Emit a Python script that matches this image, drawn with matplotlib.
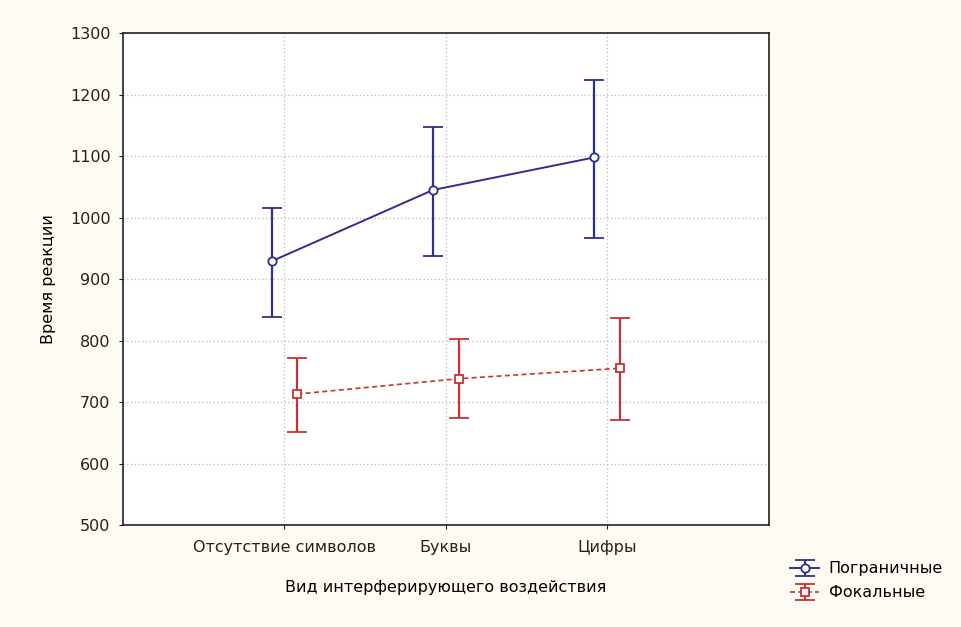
import matplotlib
matplotlib.use("Agg")
import matplotlib.pyplot as plt
import numpy as np

categories = ["Отсутствие символов", "Буквы", "Цифры"]
border_mean = [929, 1045, 1098]
border_low = [838, 938, 967]
border_high = [1015, 1147, 1224]
focal_mean = [713, 738, 755]
focal_low = [652, 674, 671]
focal_high = [771, 802, 836]
series_names = ["Пограничные", "Фокальные"]

plt.rcParams['font.family'] = ['DejaVu Sans']

fig = plt.figure(figsize=(9.61, 6.27), dpi=100, facecolor='#fdfbf2')
ax = fig.add_axes([0.128, 0.1627, 0.672, 0.7843])
ax.set_facecolor('white')

x = np.arange(len(categories))
off = 0.08
blue = '#2e2f8c'
red = '#c83232'

bm = np.array(border_mean); fm = np.array(focal_mean)
yerr_b = [bm - np.array(border_low), np.array(border_high) - bm]
yerr_f = [fm - np.array(focal_low), np.array(focal_high) - fm]

ax.errorbar(x - off, bm, yerr=yerr_b, color=blue, lw=1.4, marker='o', ms=6,
            mfc='white', mec=blue, mew=1.3, capsize=7, capthick=1.6,
            elinewidth=1.6, label=series_names[0], zorder=3)
ax.errorbar(x + off, fm, yerr=yerr_f, color=red, lw=1.2, ls=(0, (3, 2)), marker='s', ms=6,
            mfc='white', mec=red, mew=1.3, capsize=7, capthick=1.6,
            elinewidth=1.6, label=series_names[1], zorder=3)

fs = 11.5
ax.set_xlim(-1, 3)
ax.set_ylim(500, 1300)
ax.set_xticks(x)
ax.set_xticklabels(categories)
ax.set_yticks(np.arange(500, 1301, 100))
ax.grid(True, color='#b8b8b8', ls=(0, (1, 2)), lw=0.9)
ax.set_axisbelow(True)
for s in ax.spines.values():
    s.set_color('#222222'); s.set_linewidth(1.2)
ax.tick_params(direction='out', length=3, labelsize=fs, colors='#222222')
ax.tick_params(axis='x', pad=8)
ax.tick_params(axis='y', pad=6)
ax.set_ylabel("Время реакции", fontsize=fs, labelpad=10)
ax.set_xlabel("Вид интерферирующего воздействия", fontsize=fs, labelpad=18)

fig.legend(loc='upper left', bbox_to_anchor=(776/961, 1 - 547/627), frameon=False,
           fontsize=fs, handlelength=1.8, handletextpad=0.6, labelspacing=0.55)

fig.savefig("out.png", dpi=100, facecolor=fig.get_facecolor())
